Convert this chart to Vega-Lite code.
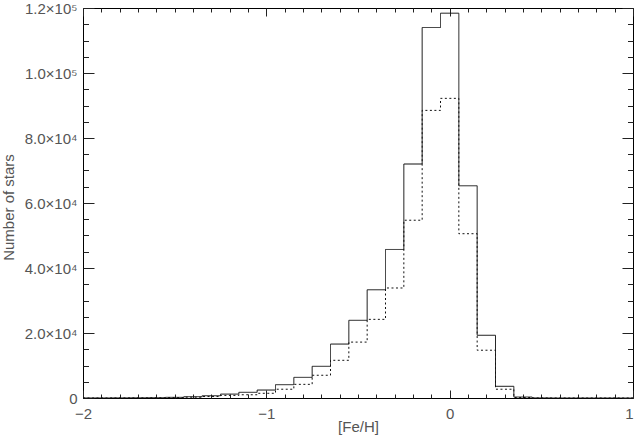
{
  "$schema": "https://vega.github.io/schema/vega-lite/v6.json",
  "width": 550,
  "height": 390,
  "autosize": {"type": "none"},
  "padding": {"left": 83, "top": 8, "right": 1, "bottom": 41},
  "background": "white",
  "config": {
    "view": {"stroke": "#000", "strokeWidth": 1},
    "axis": {
      "grid": false,
      "domain": false,
      "labelFont": "Liberation Sans",
      "labelFontSize": 15,
      "labelColor": "#555",
      "titleFont": "Liberation Sans",
      "titleFontSize": 15,
      "titleColor": "#555",
      "titleFontWeight": "normal",
      "tickColor": "#222",
      "tickWidth": 1
    }
  },
  "data": {
    "values": [
      {"feh": -2.0, "n": 0, "s": "all"},
      {"feh": -1.9, "n": 0, "s": "all"},
      {"feh": -1.8, "n": 20, "s": "all"},
      {"feh": -1.7, "n": 50, "s": "all"},
      {"feh": -1.6, "n": 100, "s": "all"},
      {"feh": -1.5, "n": 200, "s": "all"},
      {"feh": -1.4, "n": 400, "s": "all"},
      {"feh": -1.3, "n": 700, "s": "all"},
      {"feh": -1.2, "n": 1200, "s": "all"},
      {"feh": -1.1, "n": 1750, "s": "all"},
      {"feh": -1.0, "n": 2450, "s": "all"},
      {"feh": -0.9, "n": 4100, "s": "all"},
      {"feh": -0.8, "n": 6350, "s": "all"},
      {"feh": -0.7, "n": 9750, "s": "all"},
      {"feh": -0.6, "n": 16600, "s": "all"},
      {"feh": -0.5, "n": 23900, "s": "all"},
      {"feh": -0.4, "n": 33300, "s": "all"},
      {"feh": -0.3, "n": 45700, "s": "all"},
      {"feh": -0.2, "n": 72000, "s": "all"},
      {"feh": -0.1, "n": 114000, "s": "all"},
      {"feh": 0.0, "n": 118400, "s": "all"},
      {"feh": 0.1, "n": 65300, "s": "all"},
      {"feh": 0.2, "n": 19300, "s": "all"},
      {"feh": 0.3, "n": 3600, "s": "all"},
      {"feh": 0.4, "n": 300, "s": "all"},
      {"feh": 0.5, "n": 30, "s": "all"},
      {"feh": 0.6, "n": 0, "s": "all"},
      {"feh": 0.7, "n": 0, "s": "all"},
      {"feh": 0.8, "n": 0, "s": "all"},
      {"feh": 0.9, "n": 0, "s": "all"},
      {"feh": 1.0, "n": 0, "s": "all"},
      {"feh": -2.0, "n": 0, "s": "sub"},
      {"feh": -1.9, "n": 0, "s": "sub"},
      {"feh": -1.8, "n": 10, "s": "sub"},
      {"feh": -1.7, "n": 30, "s": "sub"},
      {"feh": -1.6, "n": 60, "s": "sub"},
      {"feh": -1.5, "n": 120, "s": "sub"},
      {"feh": -1.4, "n": 250, "s": "sub"},
      {"feh": -1.3, "n": 450, "s": "sub"},
      {"feh": -1.2, "n": 800, "s": "sub"},
      {"feh": -1.1, "n": 1000, "s": "sub"},
      {"feh": -1.0, "n": 1450, "s": "sub"},
      {"feh": -0.9, "n": 2700, "s": "sub"},
      {"feh": -0.8, "n": 4200, "s": "sub"},
      {"feh": -0.7, "n": 7000, "s": "sub"},
      {"feh": -0.6, "n": 11600, "s": "sub"},
      {"feh": -0.5, "n": 17200, "s": "sub"},
      {"feh": -0.4, "n": 24200, "s": "sub"},
      {"feh": -0.3, "n": 33850, "s": "sub"},
      {"feh": -0.2, "n": 54700, "s": "sub"},
      {"feh": -0.1, "n": 88500, "s": "sub"},
      {"feh": 0.0, "n": 92200, "s": "sub"},
      {"feh": 0.1, "n": 50550, "s": "sub"},
      {"feh": 0.2, "n": 14700, "s": "sub"},
      {"feh": 0.3, "n": 2700, "s": "sub"},
      {"feh": 0.4, "n": 150, "s": "sub"},
      {"feh": 0.5, "n": 10, "s": "sub"},
      {"feh": 0.6, "n": 0, "s": "sub"},
      {"feh": 0.7, "n": 0, "s": "sub"},
      {"feh": 0.8, "n": 0, "s": "sub"},
      {"feh": 0.9, "n": 0, "s": "sub"},
      {"feh": 1.0, "n": 0, "s": "sub"}
    ]
  },
  "layer": [
    {
      "mark": {"type": "line", "interpolate": "step", "color": "#111", "strokeWidth": 1},
      "encoding": {
        "x": {
          "field": "feh", "type": "quantitative",
          "scale": {"domain": [-2, 1], "nice": false, "zero": false},
          "axis": {
            "orient": "bottom", "values": [-2, -1, 0, 1], "ticks": false, "labelPadding": 8, "labelFlush": false,
            "labelAlign": {"condition": {"test": "datum.value == 1", "value": "right"}, "value": "center"},
            "title": "[Fe/H]", "titleY": 33, "titleBaseline": "alphabetic"
          }
        },
        "y": {
          "field": "n", "type": "quantitative",
          "scale": {"domain": [0, 120000], "nice": false, "zero": true},
          "axis": {
            "orient": "left",
            "values": [0, 20000, 40000, 60000, 80000, 100000, 120000],
            "ticks": false,
            "labelPadding": 6,
            "labelExpr": "datum.value == 0 ? '0' : (datum.value >= 100000 ? format(datum.value / 100000, '.1f') + '×10⁵' : format(datum.value / 10000, '.1f') + '×10⁴')",
            "title": "Number of stars",
            "titleX": -70,
            "titleY": 199,
            "titleAngle": -90,
            "titleAlign": "center",
            "titleBaseline": "alphabetic"
          }
        },
        "strokeDash": {
          "field": "s", "type": "nominal",
          "scale": {"domain": ["all", "sub"], "range": [[1, 0], [2, 2.5]]},
          "legend": null
        }
      }
    },
    {
      "mark": {"type": "point", "opacity": 0},
      "encoding": {
        "x": {"field": "feh", "type": "quantitative", "scale": {"domain": [-2, 1], "nice": false, "zero": false},
          "axis": {"orient": "bottom", "values": [-2, -1, 0, 1], "tickSize": -8, "labels": false, "title": null}},
        "y": {"field": "n", "type": "quantitative", "scale": {"domain": [0, 120000], "nice": false, "zero": true},
          "axis": {"orient": "left", "values": [0, 20000, 40000, 60000, 80000, 100000, 120000], "tickSize": -11, "labels": false, "title": null}}
      }
    },
    {
      "mark": {"type": "point", "opacity": 0},
      "encoding": {
        "x": {"field": "feh", "type": "quantitative", "scale": {"domain": [-2, 1], "nice": false, "zero": false},
          "axis": {"orient": "bottom", "values": [-1.9, -1.8, -1.7, -1.6, -1.5, -1.4, -1.3, -1.2, -1.1, -0.9, -0.8, -0.7, -0.6, -0.5, -0.4, -0.3, -0.2, -0.1, 0.1, 0.2, 0.3, 0.4, 0.5, 0.6, 0.7, 0.8, 0.9], "tickSize": -4, "labels": false, "title": null}},
        "y": {"field": "n", "type": "quantitative", "scale": {"domain": [0, 120000], "nice": false, "zero": true},
          "axis": {"orient": "left", "values": [5000, 10000, 15000, 25000, 30000, 35000, 45000, 50000, 55000, 65000, 70000, 75000, 85000, 90000, 95000, 105000, 110000, 115000], "tickSize": -5.5, "labels": false, "title": null}}
      }
    },
    {
      "mark": {"type": "point", "opacity": 0},
      "encoding": {
        "x": {"field": "feh", "type": "quantitative", "scale": {"domain": [-2, 1], "nice": false, "zero": false},
          "axis": {"orient": "top", "values": [-2, -1, 0, 1], "tickSize": -8, "labels": false, "title": null}},
        "y": {"field": "n", "type": "quantitative", "scale": {"domain": [0, 120000], "nice": false, "zero": true},
          "axis": {"orient": "right", "values": [0, 20000, 40000, 60000, 80000, 100000, 120000], "tickSize": -11, "labels": false, "title": null}}
      }
    },
    {
      "mark": {"type": "point", "opacity": 0},
      "encoding": {
        "x": {"field": "feh", "type": "quantitative", "scale": {"domain": [-2, 1], "nice": false, "zero": false},
          "axis": {"orient": "top", "values": [-1.9, -1.8, -1.7, -1.6, -1.5, -1.4, -1.3, -1.2, -1.1, -0.9, -0.8, -0.7, -0.6, -0.5, -0.4, -0.3, -0.2, -0.1, 0.1, 0.2, 0.3, 0.4, 0.5, 0.6, 0.7, 0.8, 0.9], "tickSize": -4, "labels": false, "title": null}},
        "y": {"field": "n", "type": "quantitative", "scale": {"domain": [0, 120000], "nice": false, "zero": true},
          "axis": {"orient": "right", "values": [5000, 10000, 15000, 25000, 30000, 35000, 45000, 50000, 55000, 65000, 70000, 75000, 85000, 90000, 95000, 105000, 110000, 115000], "tickSize": -5.5, "labels": false, "title": null}}
      }
    }
  ],
  "resolve": {"axis": {"x": "independent", "y": "independent"}}
}
